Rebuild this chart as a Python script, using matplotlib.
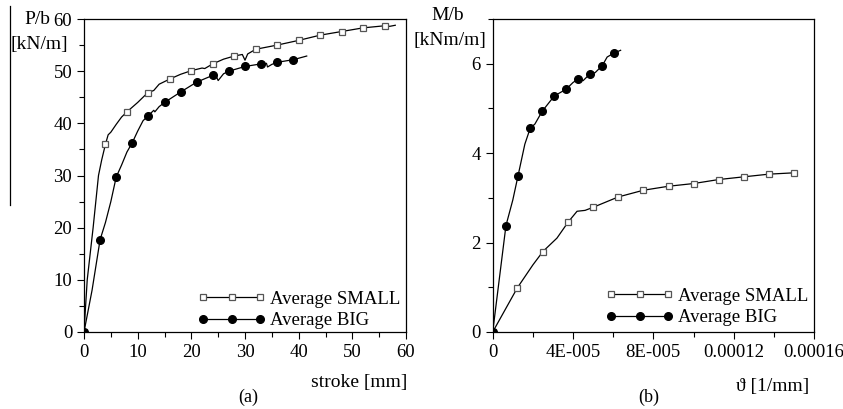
import matplotlib
matplotlib.use('Agg')
import matplotlib.pyplot as plt
from matplotlib.ticker import MultipleLocator
from matplotlib.lines import Line2D

plt.rcParams['font.family'] = ['Liberation Serif', 'DejaVu Serif']

# ─── (a) load vs stroke ───
a_small_x = [0, 0.6, 1.7, 2.7, 3.3, 4, 4.5, 5, 6, 7, 8, 10, 11.5, 12, 13, 14, 16, 18, 20,
             22, 22.5, 24, 26, 28, 29.5, 30, 30.5, 32, 36, 40, 44, 48, 52, 56, 57, 58]
a_small_y = [0, 10, 20, 30, 33, 36, 37.8, 38.3, 39.8, 41.2, 42.2, 44, 45.5, 45.9, 46.3, 47.5,
             48.5, 49.4, 50.1, 50.6, 50.5, 51.4, 52.3, 52.9, 53.2, 52.1, 53.3, 54.2, 55,
             55.9, 56.9, 57.6, 58.3, 58.7, 58.6, 58.8]
a_small_mx = [0, 4, 8, 12, 16, 20, 24, 28, 32, 36, 40, 44, 48, 52, 56]
a_small_my = [0, 36, 42.2, 45.9, 48.5, 50.1, 51.4, 52.9, 54.2, 55, 55.9, 56.9, 57.6, 58.3, 58.7]

a_big_x = [0, 1.5, 3, 4, 5, 6, 7, 8, 9, 10, 11, 12, 12.5, 13, 13.2, 14, 15, 16.5, 18,
           21, 24, 24.5, 25, 26, 27, 30, 33, 34, 34.2, 35, 36, 39, 41.5]
a_big_y = [0, 8, 17.7, 21, 25, 29.7, 32, 34.5, 36.3, 38.5, 40.5, 41.5, 42, 42.5, 42.2,
           43.2, 44, 45, 46, 47.9, 49.2, 49.3, 48.2, 49.5, 50, 50.9, 51.4, 51.5, 50.8,
           51.3, 51.7, 52.2, 52.9]
a_big_mx = [0, 3, 6, 9, 12, 15, 18, 21, 24, 27, 30, 33, 36, 39]
a_big_my = [0, 17.7, 29.7, 36.3, 41.5, 44, 46, 47.9, 49.2, 50, 50.9, 51.4, 51.7, 52.2]

# ─── (b) moment vs curvature (x in 1E-5 1/mm) ───
b_small_x = [0, 1.23, 2.0, 2.5, 3.2, 3.76, 4.2, 4.6, 5.01, 6.25, 7.5, 8.76, 10.0,
             11.26, 12.5, 13.75, 15.0]
b_small_y = [0, 0.99, 1.5, 1.8, 2.1, 2.46, 2.7, 2.72, 2.79, 3.02, 3.17, 3.26, 3.32,
             3.41, 3.47, 3.53, 3.56]
b_small_mx = [0, 1.23, 2.5, 3.76, 5.01, 6.25, 7.5, 8.76, 10.0, 11.26, 12.5, 13.75, 15.0]
b_small_my = [0, 0.99, 1.8, 2.46, 2.79, 3.02, 3.17, 3.26, 3.32, 3.41, 3.47, 3.53, 3.56]

b_big_x = [0, 0.66, 1.0, 1.26, 1.6, 1.87, 2.1, 2.47, 3.07, 3.66, 4.0, 4.26, 4.5,
           4.86, 5.1, 5.46, 5.7, 6.05, 6.37]
b_big_y = [0, 2.38, 2.95, 3.49, 4.2, 4.56, 4.65, 4.94, 5.28, 5.43, 5.58, 5.66, 5.62,
           5.78, 5.8, 5.96, 6.15, 6.24, 6.30]
b_big_mx = [0, 0.66, 1.26, 1.87, 2.47, 3.07, 3.66, 4.26, 4.86, 5.46, 6.05]
b_big_my = [0, 2.38, 3.49, 4.56, 4.94, 5.28, 5.43, 5.66, 5.78, 5.96, 6.24]

b_xticks = [0, 4, 8, 12, 16]
b_xticklabels = ['0', '4E-005', '8E-005', '0.00012', '0.00016']

SQ = dict(marker='s', ms=5, mfc='white', mec='#555', mew=0.9)
CI = dict(marker='o', ms=5.5, mfc='black', mec='black')
TXT = 14
TICK = 13.5

fig = plt.figure(figsize=(8.43, 4.09), dpi=100)
ax1 = fig.add_axes([84 / 843, 77 / 409, 322 / 843, 313 / 409])
ax2 = fig.add_axes([492.7 / 843, 77 / 409, 321.3 / 843, 313 / 409])


def style(ax):
    for s in ax.spines.values():
        s.set_linewidth(0.9)
    ax.tick_params(which='both', direction='out', top=False, right=False,
                   labelsize=TICK, width=0.8)
    ax.tick_params(which='major', length=5)
    ax.tick_params(which='minor', length=3.5)


# (a)
ax1.plot(a_small_x, a_small_y, color='black', lw=0.9)
ax1.plot(a_small_mx, a_small_my, ls='none', **SQ)
ax1.plot(a_big_x, a_big_y, color='black', lw=0.9)
ax1.plot(a_big_mx, a_big_my, ls='none', **CI)
ax1.set_xlim(0, 60)
ax1.set_ylim(0, 60)
ax1.xaxis.set_major_locator(MultipleLocator(10))
ax1.xaxis.set_minor_locator(MultipleLocator(5))
ax1.yaxis.set_major_locator(MultipleLocator(10))
ax1.yaxis.set_minor_locator(MultipleLocator(5))
style(ax1)

# (b)
ax2.plot(b_small_x, b_small_y, color='black', lw=0.9)
ax2.plot(b_small_mx, b_small_my, ls='none', **SQ)
ax2.plot(b_big_x, b_big_y, color='black', lw=0.9)
ax2.plot(b_big_mx, b_big_my, ls='none', **CI)
ax2.set_xlim(0, 16)
ax2.set_ylim(0, 7)
ax2.set_xticks(b_xticks)
ax2.set_xticklabels(b_xticklabels)
ax2.xaxis.set_minor_locator(MultipleLocator(2))
ax2.yaxis.set_major_locator(MultipleLocator(2))
ax2.yaxis.set_minor_locator(MultipleLocator(1))
style(ax2)

# legends
handles = [
    Line2D([0], [0], color='black', lw=0.9, **SQ),
    Line2D([0], [0], color='black', lw=0.9, **CI),
]
for ax, anchor in ((ax1, (1.035, -0.045)), (ax2, (1.035, -0.035))):
    ax.legend(handles, ['Average SMALL', 'Average BIG'], loc='lower right',
              bbox_to_anchor=anchor, frameon=False, numpoints=3, handlelength=3.6,
              handletextpad=0.25, labelspacing=0.22, fontsize=13.5)

# axis captions
fig.text(37 / 843, 1 - 19 / 409, 'P/b', fontsize=TXT, ha='center', va='center')
fig.text(39 / 843, 1 - 45 / 409, '[kN/m]', fontsize=TXT, ha='center', va='center')
fig.text(359 / 843, 1 - 382 / 409, 'stroke [mm]', fontsize=TXT, ha='center', va='center')
fig.text(248 / 843, 1 - 397 / 409, '(a)', fontsize=TXT - 1, ha='center', va='center')

fig.text(448 / 843, 1 - 15 / 409, 'M/b', fontsize=TXT, ha='center', va='center')
fig.text(450 / 843, 1 - 40 / 409, '[kNm/m]', fontsize=TXT, ha='center', va='center')
fig.text(773 / 843, 1 - 386 / 409, 'ϑ [1/mm]', fontsize=TXT, ha='center', va='center')
fig.text(649 / 843, 1 - 397 / 409, '(b)', fontsize=TXT - 1, ha='center', va='center')

# stray vertical rule at the left edge of the scan
fig.add_artist(Line2D([10 / 843, 10 / 843], [1 - 6 / 409, 1 - 205 / 409],
                      color='black', lw=0.9, transform=fig.transFigure))

fig.savefig('out.png', dpi=100)
